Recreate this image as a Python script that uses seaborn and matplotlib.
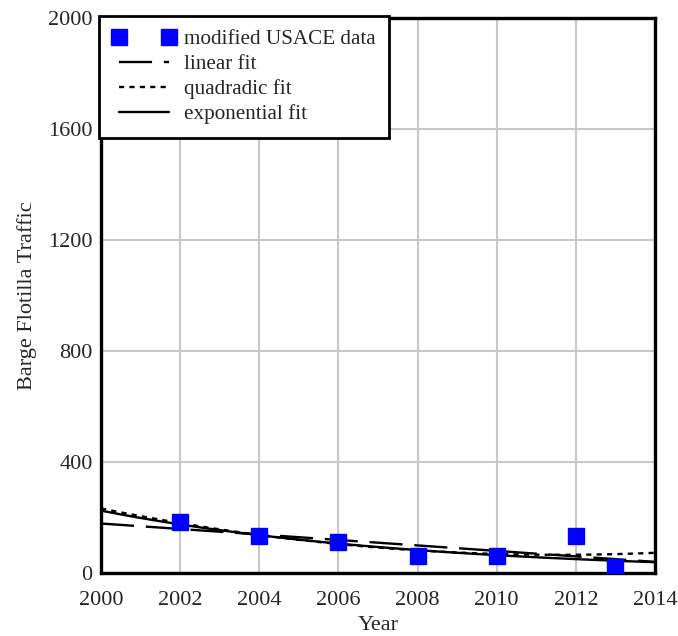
import numpy as np
import pandas as pd
import matplotlib
matplotlib.use('Agg')
import matplotlib.pyplot as plt
import seaborn as sns

# datos
years = [2002, 2004, 2006, 2008, 2010, 2012, 2013]
traffic = [184, 133, 112, 61, 61, 133, 22]
x_ticks = [2000, 2002, 2004, 2006, 2008, 2010, 2012, 2014]
y_ticks = [0, 400, 800, 1200, 1600, 2000]

sns.set_style('white')
plt.rcParams['font.family'] = ['Liberation Serif', 'DejaVu Serif']
plt.rcParams['font.size'] = 16

df = pd.DataFrame({'Year': years, 'Traffic': traffic})

# ajustes (lineal, cuadratico, exponencial)
t = df['Year'] - 2000
xx = np.linspace(0, 14, 200)
lin = np.polyval(np.polyfit(t, df['Traffic'], 1), xx)
quad = np.polyval(np.polyfit(t, df['Traffic'], 2), xx)
expo = np.exp(np.polyval(np.polyfit(t, np.log(df['Traffic']), 1), xx))
fits = pd.DataFrame({'Year': xx + 2000, 'lin': lin, 'quad': quad, 'expo': expo})

fig = plt.figure(figsize=(6.78, 6.36), dpi=100)
ax = fig.add_axes([0.149, 0.099, 0.817, 0.873])

ax.plot(df['Year'], df['Traffic'], 's', color='#0000ff', markersize=11,
        label='modified USACE data', zorder=4)
sns.lineplot(data=fits, x='Year', y='lin', ax=ax, color='black', lw=1.7,
             label='linear fit').lines[-1].set_dashes([14, 5])
sns.lineplot(data=fits, x='Year', y='quad', ax=ax, color='black', lw=1.7,
             label='quadradic fit').lines[-1].set_dashes([2.2, 2.2])
sns.lineplot(data=fits, x='Year', y='expo', ax=ax, color='black', lw=1.7,
             label='exponential fit')

ax.set_xlim(2000, 2014)
ax.set_ylim(0, 2000)
ax.set_xticks(x_ticks)
ax.set_yticks(y_ticks)
ax.grid(True, color='#c8c8c8', lw=1.5)
ax.set_axisbelow(True)
for s in ax.spines.values():
    s.set_linewidth(2.4)
    s.set_color('black')
ax.tick_params(axis='x', length=0, pad=13)
ax.tick_params(axis='y', length=0, pad=6)
ax.set_xlabel('Year', labelpad=4)
ax.set_ylabel('Barge Flotilla Traffic', labelpad=8)

leg = ax.legend(loc='upper left', bbox_to_anchor=(-0.003, 1.003), numpoints=2,
                fontsize=15.2, fancybox=False, framealpha=1, edgecolor='black',
                handlelength=3.0, handletextpad=0.4, borderpad=0.62,
                labelspacing=0.25, borderaxespad=0)
leg.get_frame().set_linewidth(2)
leg.set_zorder(10)

fig.savefig('out.png', dpi=100)
